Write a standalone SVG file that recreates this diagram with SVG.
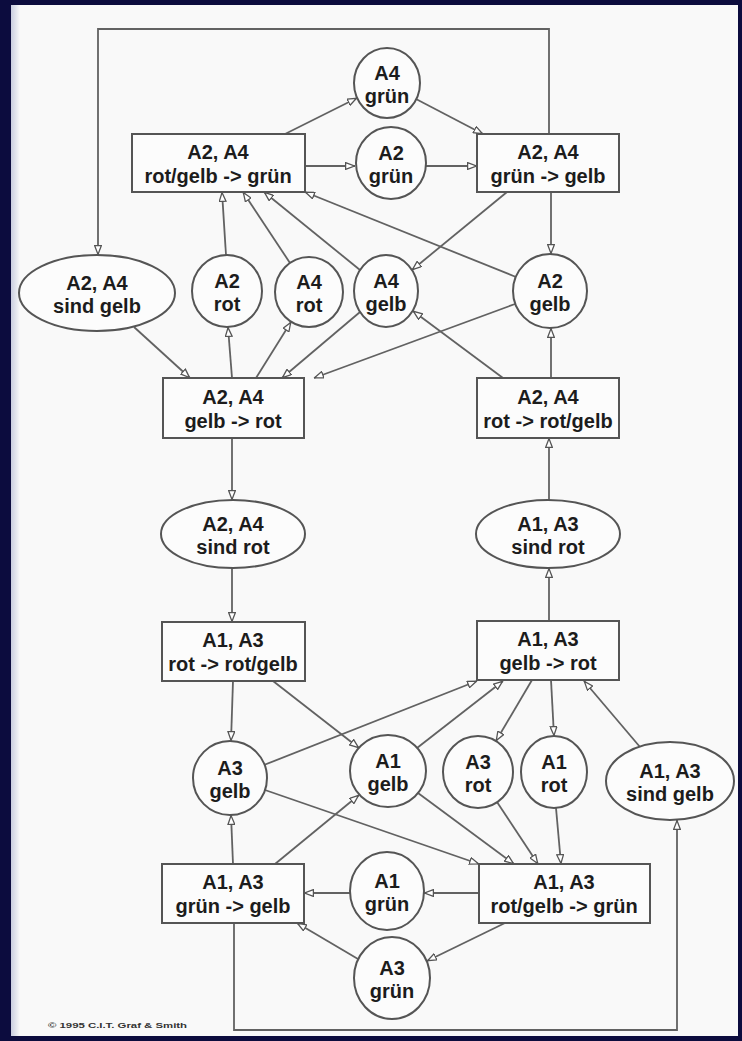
<svg xmlns="http://www.w3.org/2000/svg" width="742" height="1041" viewBox="0 0 742 1041">
  <style>
    .frame { fill: #0c0c3e; }
    .page { fill: #f9f9f9; }
    .node rect, .node ellipse { fill: #fcfcfc; stroke: #555; stroke-width: 2; }
    .node text { font-family: "Liberation Sans", Arial, sans-serif; font-weight: bold; font-size: 20px; fill: #1c1c1c; text-anchor: middle; }
    #edges path { fill: none; stroke: #626262; stroke-width: 1.8; marker-end: url(#tip); }
    #edges path.plain { marker-end: none; }
    .credit { font-family: "Liberation Sans", Arial, sans-serif; font-weight: bold; font-size: 8px; fill: #333; }
  </style>
  <defs>
    <marker id="tip" viewBox="0 0 10 8" refX="10" refY="4" markerWidth="10" markerHeight="8" markerUnits="userSpaceOnUse" orient="auto">
      <path d="M0.6,0.6 L9.4,4 L0.6,7.4 Z" fill="#fff" stroke="#555" stroke-width="1.3"/>
    </marker>
    <linearGradient id="edgeShade" x1="0" y1="0" x2="1" y2="0">
      <stop offset="0" stop-color="#c9cde0"/>
      <stop offset="1" stop-color="#f9f9f9"/>
    </linearGradient>
  </defs>

  <!-- slide frame -->
  <rect class="frame" x="0" y="0" width="742" height="1041"/>
  <rect class="page" x="11" y="5" width="727" height="1031"/>
  <rect x="11" y="5" width="9" height="1031" fill="url(#edgeShade)"/>

  <!-- connectors -->
  <g id="edges">
    <!-- upper cycle (A2, A4) -->
    <path d="M549,134 V29 H98 V255"/>
    <path d="M285,134 L357,98"/>
    <path d="M416,99 L483,134"/>
    <path d="M305,166 L355,166"/>
    <path d="M426,166 L477,166"/>
    <path d="M507,192 L412,270"/>
    <path d="M551,192 L551,254"/>
    <path d="M226,255 L222,192"/>
    <path d="M290,263 L243,192"/>
    <path d="M360,270 L264,192"/>
    <path d="M516,277 L305,192"/>
    <path d="M134,327 L190,378"/>
    <path d="M232,378 L228,327"/>
    <path d="M256,378 L291,322"/>
    <path d="M360,312 L282,378"/>
    <path d="M515,304 L314,378"/>
    <path d="M503,378 L413,311"/>
    <path d="M551,378 L551,328"/>
    <!-- middle chain -->
    <path d="M232,438 L232,500"/>
    <path d="M232,568 L232,622"/>
    <path d="M549,621 L549,568"/>
    <path d="M549,500 L549,438"/>
    <!-- lower cycle (A1, A3) -->
    <path d="M233,681 L231,741"/>
    <path d="M273,681 L359,748"/>
    <path d="M264,765 L477,681"/>
    <path d="M417,748 L503,681"/>
    <path d="M532,680 L496,741"/>
    <path d="M551,680 L554,736"/>
    <path d="M640,747 L584,681"/>
    <path d="M265,790 L479,864"/>
    <path d="M418,793 L514,864"/>
    <path d="M497,802 L538,864"/>
    <path d="M556,808 L561,864"/>
    <path d="M233,864 L231,815"/>
    <path d="M275,864 L359,795"/>
    <path d="M350,893 L304,893"/>
    <path d="M479,893 L424,893"/>
    <path d="M358,959 L297,923"/>
    <path d="M505,923 L427,961"/>
    <path d="M234,923 V1030 H677 V820"/>
  </g>

  <!-- states and transitions -->
  <g id="n-a4-gruen-top" class="node">
    <ellipse cx="387" cy="83" rx="33" ry="35"/>
    <text x="387" y="80">A4</text><text x="387" y="103">grün</text>
  </g>
  <g id="n-a24-rotgelb-gruen" class="node">
    <rect x="132" y="134" width="173" height="58"/>
    <text x="218" y="159">A2, A4</text><text x="218" y="183">rot/gelb -&gt; grün</text>
  </g>
  <g id="n-a2-gruen" class="node">
    <ellipse cx="391" cy="163" rx="35" ry="36"/>
    <text x="391" y="160">A2</text><text x="391" y="183">grün</text>
  </g>
  <g id="n-a24-gruen-gelb" class="node">
    <rect x="477" y="134" width="142" height="58"/>
    <text x="548" y="159">A2, A4</text><text x="548" y="183">grün -&gt; gelb</text>
  </g>
  <g id="n-a24-sind-gelb" class="node">
    <ellipse cx="97" cy="293" rx="78" ry="38"/>
    <text x="97" y="290">A2, A4</text><text x="97" y="313">sind gelb</text>
  </g>
  <g id="n-a2-rot" class="node">
    <ellipse cx="227" cy="291" rx="35" ry="36"/>
    <text x="227" y="288">A2</text><text x="227" y="311">rot</text>
  </g>
  <g id="n-a4-rot" class="node">
    <ellipse cx="309" cy="292" rx="34" ry="35"/>
    <text x="309" y="289">A4</text><text x="309" y="312">rot</text>
  </g>
  <g id="n-a4-gelb" class="node">
    <ellipse cx="386" cy="291" rx="32" ry="36"/>
    <text x="386" y="288">A4</text><text x="386" y="311">gelb</text>
  </g>
  <g id="n-a2-gelb" class="node">
    <ellipse cx="550" cy="291" rx="37" ry="37"/>
    <text x="550" y="288">A2</text><text x="550" y="311">gelb</text>
  </g>
  <g id="n-a24-gelb-rot" class="node">
    <rect x="163" y="378" width="141" height="60"/>
    <text x="233" y="404">A2, A4</text><text x="233" y="428">gelb -&gt; rot</text>
  </g>
  <g id="n-a24-rot-rotgelb" class="node">
    <rect x="477" y="378" width="142" height="60"/>
    <text x="548" y="404">A2, A4</text><text x="548" y="428">rot -&gt; rot/gelb</text>
  </g>
  <g id="n-a24-sind-rot" class="node">
    <ellipse cx="233" cy="534" rx="72" ry="34"/>
    <text x="233" y="531">A2, A4</text><text x="233" y="554">sind rot</text>
  </g>
  <g id="n-a13-sind-rot" class="node">
    <ellipse cx="548" cy="534" rx="72" ry="34"/>
    <text x="548" y="531">A1, A3</text><text x="548" y="554">sind rot</text>
  </g>
  <g id="n-a13-rot-rotgelb" class="node">
    <rect x="162" y="622" width="143" height="59"/>
    <text x="233" y="647">A1, A3</text><text x="233" y="671">rot -&gt; rot/gelb</text>
  </g>
  <g id="n-a13-gelb-rot" class="node">
    <rect x="477" y="621" width="142" height="59"/>
    <text x="548" y="646">A1, A3</text><text x="548" y="670">gelb -&gt; rot</text>
  </g>
  <g id="n-a3-gelb" class="node">
    <ellipse cx="230" cy="778" rx="37" ry="37"/>
    <text x="230" y="775">A3</text><text x="230" y="798">gelb</text>
  </g>
  <g id="n-a1-gelb" class="node">
    <ellipse cx="388" cy="771" rx="38" ry="36"/>
    <text x="388" y="768">A1</text><text x="388" y="791">gelb</text>
  </g>
  <g id="n-a3-rot" class="node">
    <ellipse cx="478" cy="772" rx="35" ry="36"/>
    <text x="478" y="769">A3</text><text x="478" y="792">rot</text>
  </g>
  <g id="n-a1-rot" class="node">
    <ellipse cx="554" cy="772" rx="33" ry="36"/>
    <text x="554" y="769">A1</text><text x="554" y="792">rot</text>
  </g>
  <g id="n-a13-sind-gelb" class="node">
    <ellipse cx="670" cy="781" rx="64" ry="39"/>
    <text x="670" y="778">A1, A3</text><text x="670" y="801">sind gelb</text>
  </g>
  <g id="n-a13-gruen-gelb" class="node">
    <rect x="162" y="864" width="142" height="59"/>
    <text x="233" y="889">A1, A3</text><text x="233" y="913">grün -&gt; gelb</text>
  </g>
  <g id="n-a1-gruen" class="node">
    <ellipse cx="387" cy="891" rx="37" ry="39"/>
    <text x="387" y="888">A1</text><text x="387" y="911">grün</text>
  </g>
  <g id="n-a13-rotgelb-gruen" class="node">
    <rect x="479" y="864" width="171" height="59"/>
    <text x="564" y="889">A1, A3</text><text x="564" y="913">rot/gelb -&gt; grün</text>
  </g>
  <g id="n-a3-gruen" class="node">
    <ellipse cx="392" cy="978" rx="38" ry="41"/>
    <text x="392" y="975">A3</text><text x="392" y="998">grün</text>
  </g>

  <text class="credit" x="48" y="1028" textLength="139" lengthAdjust="spacingAndGlyphs">© 1995 C.I.T. Graf &amp; Smith</text>
</svg>
